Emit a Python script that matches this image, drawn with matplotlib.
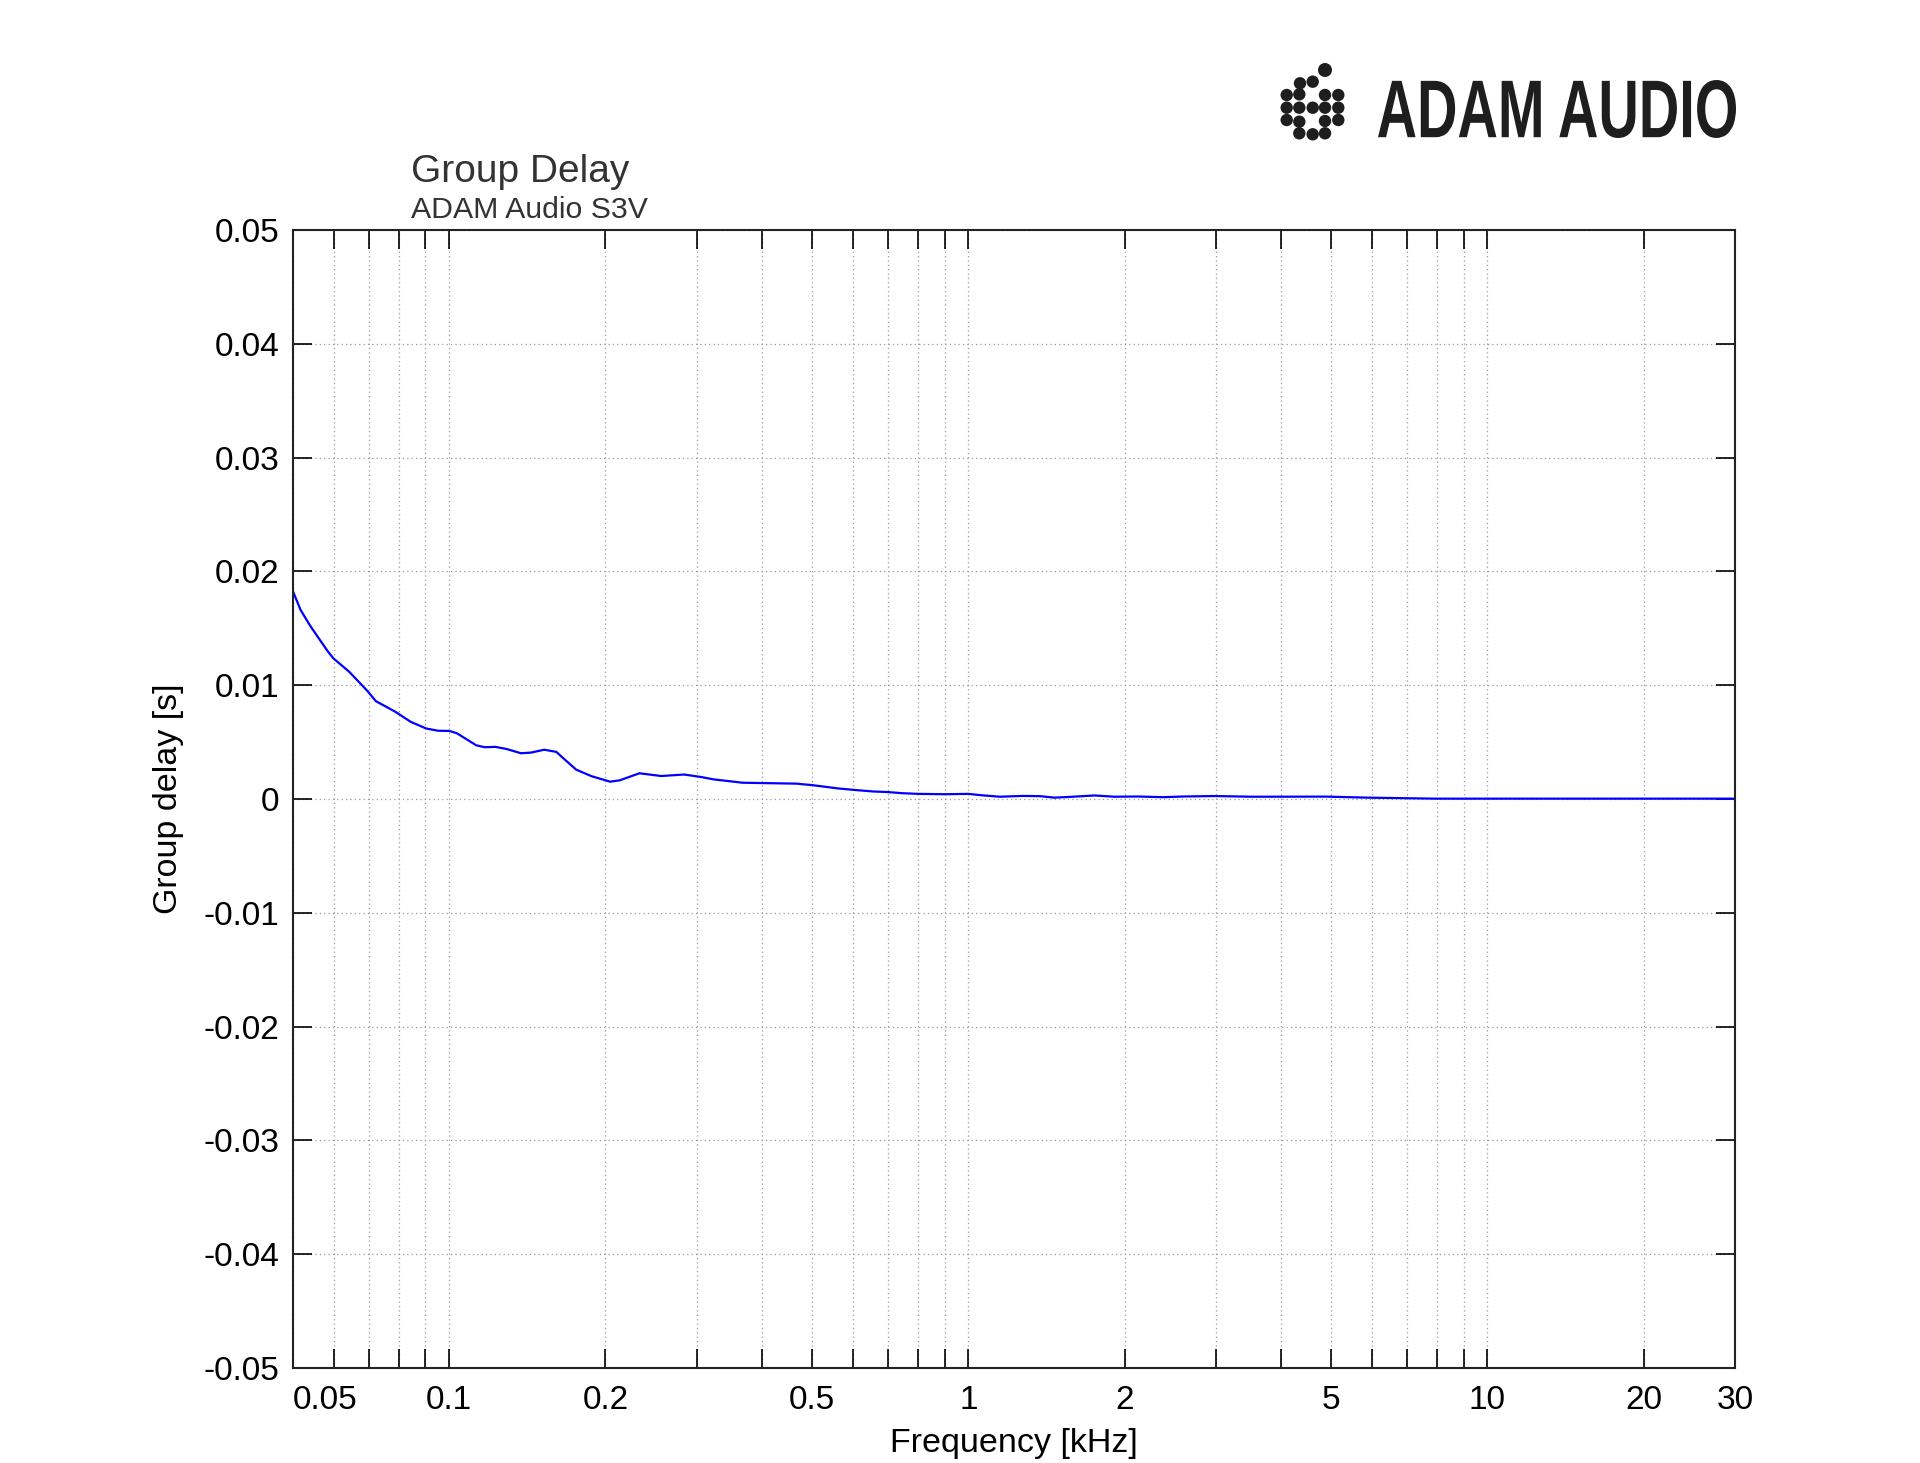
import matplotlib
matplotlib.use("Agg")
import matplotlib.pyplot as plt
from matplotlib.patches import Circle, PathPatch
from matplotlib.textpath import TextPath
from matplotlib.font_manager import FontProperties
from matplotlib.transforms import Affine2D

plt.rcParams['font.family'] = ['Liberation Sans', 'DejaVu Sans']

# ==============================
# Data
# ==============================

freq_khz = [0.050, 0.0517, 0.0540, 0.0559, 0.0583, 0.0598, 0.0641, 0.0697, 0.0722,
            0.0787, 0.0843, 0.0902, 0.0951, 0.100, 0.1034, 0.1071, 0.1127, 0.1170, 0.1227,
            0.1288, 0.1375, 0.1438, 0.1524, 0.1608, 0.1671, 0.1756, 0.1881, 0.2042,
            0.2130, 0.2325, 0.2561, 0.2835, 0.3050, 0.3235, 0.3675, 0.4665, 0.500,
            0.5635, 0.6125, 0.657, 0.700, 0.746, 0.801, 0.901, 1.0, 1.066, 1.150,
            1.273, 1.374, 1.465, 1.561, 1.751, 1.913, 2.116, 2.374, 2.595, 2.985,
            3.522, 4.902, 5.862, 7.94, 9.75, 30.0]

delay_s = [0.01824, 0.01662, 0.0152, 0.01420, 0.01300, 0.01236, 0.01120, 0.00945, 0.00860,
           0.00767, 0.00678, 0.00620, 0.00600, 0.00598, 0.00578, 0.00535, 0.00472, 0.00455, 0.00458,
           0.00440, 0.00402, 0.00408, 0.00433, 0.00414, 0.00345, 0.00258, 0.00200, 0.00152,
           0.00164, 0.00226, 0.00202, 0.00215, 0.00194, 0.00172, 0.00143, 0.00135, 0.00122,
           0.00092, 0.00077, 0.00066, 0.00061, 0.00051, 0.00045, 0.00042, 0.00045, 0.00032,
           0.00020, 0.00027, 0.00025, 0.00012, 0.00018, 0.00031, 0.00020, 0.00022, 0.00016,
           0.00022, 0.00026, 0.00020, 0.00021, 0.00012, 0.00003, 0.00003, 0.00003]

x_ticks = [0.05, 0.06, 0.07, 0.08, 0.09, 0.1, 0.2, 0.3, 0.4, 0.5, 0.6, 0.7, 0.8, 0.9,
           1, 2, 3, 4, 5, 6, 7, 8, 9, 10, 20, 30]
x_labels = ["0.05", "", "", "", "", "0.1", "0.2", "", "", "0.5", "", "", "", "",
            "1", "2", "", "", "5", "", "", "", "", "10", "20", "30"]
y_ticks = [-0.05, -0.04, -0.03, -0.02, -0.01, 0, 0.01, 0.02, 0.03, 0.04, 0.05]
y_labels = ["-0.05", "-0.04", "-0.03", "-0.02", "-0.01", "0",
            "0.01", "0.02", "0.03", "0.04", "0.05"]

# logo dots (pixel centres, from top-left)
logo_dots = [(1325, 70), (1312.7, 81.7), (1300, 83.3),
             (1286.7, 95), (1299.3, 94.3), (1325, 95), (1338.3, 95),
             (1286.7, 107.7), (1299.3, 107.7), (1312.7, 107.7), (1325, 107.7), (1338.3, 107.7),
             (1286.7, 120), (1299.3, 121.7), (1325, 121), (1338.3, 120),
             (1299.3, 133.3), (1312.7, 134.3), (1325, 133.3)]

# ==============================
# Figure
# ==============================

W, H = 1920, 1463
fig = plt.figure(figsize=(W / 100, H / 100), dpi=100)
ax = fig.add_axes([293 / W, 1 - 1368 / H, (1735 - 293) / W, (1368 - 230) / H])

ax.plot(freq_khz, delay_s, color="#0000ff", lw=1.6)

ax.set_xscale("log")
ax.set_xlim(0.05, 30)
ax.set_ylim(-0.05, 0.05)
ax.set_xticks(x_ticks)
ax.set_xticklabels(x_labels)
ax.xaxis.set_minor_locator(matplotlib.ticker.NullLocator())
ax.set_yticks(y_ticks)
ax.set_yticklabels(y_labels)
ax.get_xticklabels()[0].set_horizontalalignment("left")

ax.tick_params(direction="in", length=14, width=1.2, labelsize=24, pad=12,
               top=True, right=True, colors="black")
ax.tick_params(axis="y", pad=10)
ax.grid(True, linestyle=(0, (1, 2.5)), color="#9a9a9a", lw=0.9)
for sp in ax.spines.values():
    sp.set_linewidth(1.5)
    sp.set_color("#222222")

ax.set_xlabel("Frequency [kHz]", fontsize=24.5, labelpad=9)
ax.set_ylabel("Group delay [s]", fontsize=24.5, labelpad=14)

fig.text(411 / W, 1 - 182 / H, "Group Delay", fontsize=28, color="#333333",
         ha="left", va="baseline")
fig.text(411 / W, 1 - 218 / H, "ADAM Audio S3V", fontsize=21.8, color="#333333",
         ha="left", va="baseline")

# ==============================
# Logo
# ==============================

for i, (x, y) in enumerate(logo_dots):
    r = 7 if i == 0 else 6.2
    fig.add_artist(Circle((x, H - y), r, transform=None, color="#1e1e1e", lw=0))

tp = TextPath((0, 0), "ADAM AUDIO", size=100,
              prop=FontProperties(family="Liberation Sans", weight="bold"))
bb = tp.get_extents()
tr = (Affine2D().translate(-bb.x0, -bb.y0)
      .scale(358 / bb.width, 58 / bb.height)
      .translate(1378, H - 138))
fig.add_artist(PathPatch(tp, transform=tr, color="#1e1e1e", lw=0))

fig.savefig("out.png", dpi=100, facecolor="white")
